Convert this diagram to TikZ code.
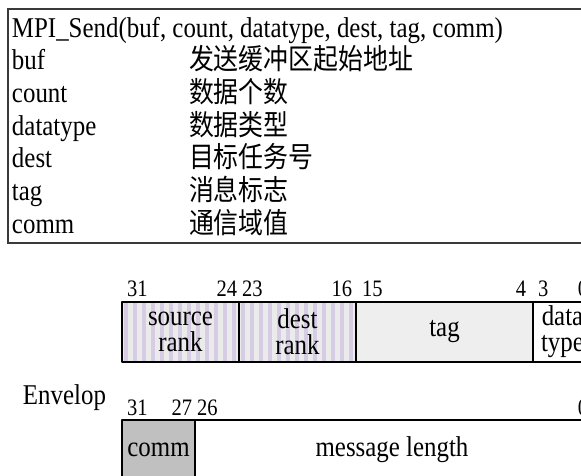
\documentclass[tikz,border=0pt]{standalone}
\usepackage{fontspec}
\setmainfont{Liberation Serif}
\newfontfamily\cjk{Noto Sans CJK SC}
\usetikzlibrary{positioning,calc}
\definecolor{lav}{HTML}{D6CCE4}
\definecolor{stripebg}{HTML}{EBEBEB}
\definecolor{tagfill}{HTML}{EEEEEE}
\definecolor{commfill}{HTML}{C0C0C0}
\definecolor{frame}{HTML}{3A3A3A}
\tikzset{
  txt/.style={inner sep=0pt, outer sep=0pt, yscale=1.15,
    font=\fontsize{24.9}{22.8}\selectfont},
  bitno/.style={inner sep=0pt, outer sep=0pt, yscale=1.15,
    font=\fontsize{20.5}{20}\selectfont},
  field/.style={draw=black, line width=1.8pt, line join=round,
    inner sep=0pt, outer sep=0pt, anchor=north west},
  striped/.style={fill=stripebg, path picture={
      \foreach \i in {0,...,14}
        \fill[lav] ([xshift=\i*9pt+2pt]path picture bounding box.south west)
          rectangle ++(4pt,80pt);}},
  tablebox/.style={draw=frame, line width=1.2pt, inner sep=0pt,
    outer sep=0pt, anchor=north west, minimum width=700pt, minimum height=234pt},
}
\begin{document}
\begin{tikzpicture}[x=1pt,y=-1pt]
\useasboundingbox (0,0) rectangle (581,475);
\clip (0,0) rectangle (581,475);

% parameter table
\node[tablebox] (tbl) at (8,9) {};
\node[txt, anchor=base west] (hdr) at (12,37) {MPI\_Send(buf, count, datatype, dest, tag, comm)};
\foreach \nm/\lbl/\zh [count=\k] in {
    buf/buf/发送缓冲区起始地址,
    cnt/count/数据个数,
    dty/datatype/数据类型,
    dst/dest/目标任务号,
    tg/tag/消息标志,
    cm/comm/通信域值}{
  \node[txt, anchor=base west] (p\nm) at (12,{37+32.67*\k}) {\lbl};
  \node[txt, anchor=base west] (d\nm) at (189,{37+32.67*\k}) {\cjk\zh};
}

% first envelope word
\node[field, striped, minimum width=117pt, minimum height=60pt] (src) at (122,302) {};
\node[field, striped, minimum width=117pt, minimum height=60pt] (dstr) at (239,302) {};
\node[field, fill=tagfill, minimum width=177pt, minimum height=60pt] (tagb) at (356,302) {};
\node[field, fill=white, minimum width=59pt, minimum height=60pt] (dtb) at (533,302) {};
\node[txt, align=center] at (src.center) {source\\rank};
\node[txt, align=center] at (dstr.center) {dest\\rank};
\node[txt] at (tagb.center) {tag};
\node[txt, align=center] at (dtb.center) {data\\type};

\node[bitno, anchor=base west] (n31) at (127,296.5) {31};
\node[bitno, anchor=base east] (n24) at (237,296.5) {24};
\node[bitno, anchor=base west] (n23) at (242,296.5) {23};
\node[bitno, anchor=base east] (n16) at (352,296.5) {16};
\node[bitno, anchor=base west] (n15) at (362,296.5) {15};
\node[bitno, anchor=base east] (n4) at (526,296.5) {4};
\node[bitno, anchor=base west] (n3) at (538,296.5) {3};
\node[bitno, anchor=base east] (n0) at (588,296.5) {0};

\node[txt, anchor=base west] (env) at (23,404) {Envelop};

% second envelope word
\node[field, fill=commfill, minimum width=73pt, minimum height=80pt] (cmb) at (122,420) {};
\node[field, fill=white, minimum width=394pt, minimum height=80pt] (mlb) at (195,420) {};
\node[txt] at ($(cmb.north)+(0,30)$) {comm};
\node[txt] at ($(mlb.north)+(0,30)$) {message length};

\node[bitno, anchor=base west] (m31) at (127,415) {31};
\node[bitno, anchor=base east] (m27) at (192,415) {27};
\node[bitno, anchor=base west] (m26) at (197,415) {26};
\node[bitno, anchor=base east] (m0) at (588,415) {0};
\end{tikzpicture}
\end{document}
